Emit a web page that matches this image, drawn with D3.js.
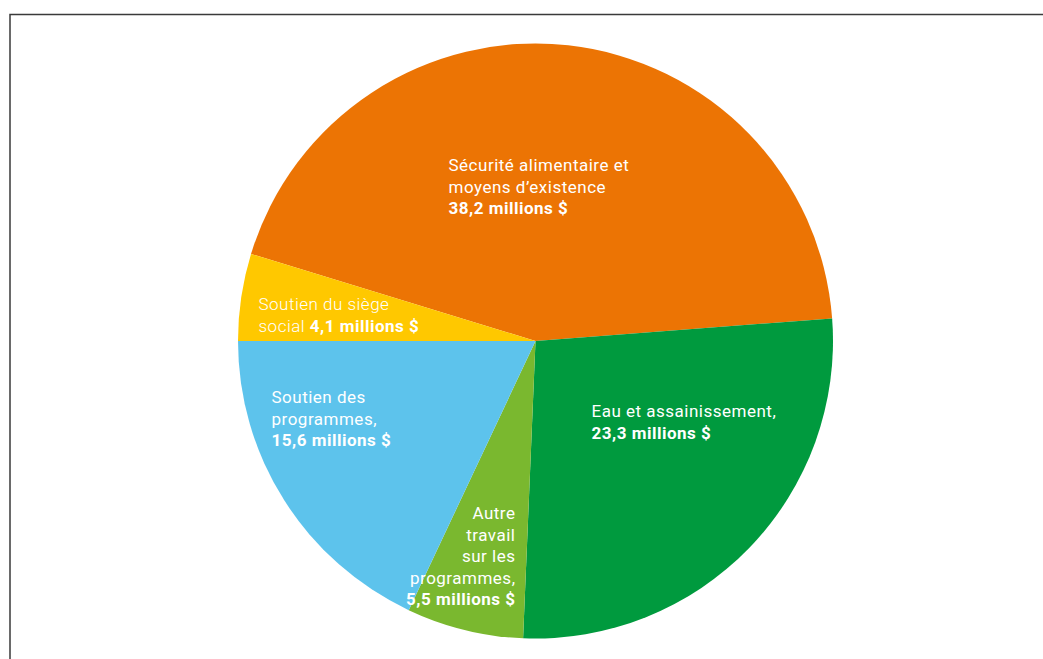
<!DOCTYPE html>
<html>
<head>
<meta charset="utf-8">
<script src="https://cdn.jsdelivr.net/npm/d3@7"></script>
<style>
  body { margin: 0; background: #fff; }
  svg { display: block; }
  text { font-family: Roboto, "Noto Sans", sans-serif; font-size: 17px; letter-spacing: 0.5px; fill: #fff; }
</style>
</head>
<body>
<div id="chart"></div>
<script>
// data, in millions $
const categories = ["food", "water", "other", "support", "hq"];
const values = [38.2, 23.3, 5.5, 15.6, 4.1];
const colors = ["#ec7404", "#009a3e", "#7ab82f", "#5dc3ec", "#ffc800"];

// label lines: [text, bold]
const labelLines = [
  [["Sécurité alimentaire et", false], ["moyens d\u2019existence", false], ["38,2 millions $", true]],
  [["Eau et assainissement,", false], ["23,3 millions $", true]],
  [["Autre", false], ["travail", false], ["sur les", false], ["programmes,", false], ["5,5 millions $", true]],
  [["Soutien des", false], ["programmes,", false], ["15,6 millions $", true]],
  [["Soutien du siège", false], ["social |4,1 millions $", false]]
];

const width = 1043;
const height = 659;
const CX = 535.5;
const CY = 341;
const RADIUS = 297.5;
const LINE_H = 21.6;

// label placement relative to the pie centre (first baseline)
const labelPos = [
  {dx: -87, dy: -170, anchor: "start"},
  {dx: 56, dy: 76, anchor: "start"},
  {dx: -20, dy: 178, anchor: "end"},
  {dx: -264, dy: 62, anchor: "start"},
  {dx: -277, dy: -31, anchor: "start"}
];

const svg = d3.select("#chart")
  .append("svg")
  .attr("width", width)
  .attr("height", height);

// frame
svg.append("path")
  .attr("d", `M10,${height} L10,14.5 L${width},14.5`)
  .attr("fill", "none")
  .attr("stroke", "#3a3a3a")
  .attr("stroke-width", 1.5);

// hq slice ends on the left horizontal, the rest follows clockwise
const total = d3.sum(values);
const start = -Math.PI / 2 + values[4] / total * 2 * Math.PI;

const pie = d3.pie()
  .sort(null)
  .value(d => d)
  .startAngle(start)
  .endAngle(start + 2 * Math.PI);

const arc = d3.arc().innerRadius(0).outerRadius(RADIUS);

const g = svg.append("g").attr("transform", `translate(${CX},${CY})`);

g.selectAll("path.slice")
  .data(pie(values))
  .enter()
  .append("path")
  .attr("class", "slice")
  .attr("d", arc)
  .attr("fill", (d, i) => colors[i]);

// labels
labelLines.forEach((lines, i) => {
  const p = labelPos[i];
  const t = g.append("text")
    .attr("text-anchor", p.anchor)
    .attr("x", p.dx)
    .attr("y", p.dy);
  lines.forEach((ln, j) => {
    const parts = ln[0].split("|");
    if (parts.length > 1) {
      t.append("tspan").attr("x", p.dx).attr("dy", j === 0 ? 0 : LINE_H)
        .style("font-weight", 300).text(parts[0]);
      t.append("tspan").style("font-weight", 700).text(parts[1]);
    } else {
      t.append("tspan")
        .attr("x", p.dx)
        .attr("dy", j === 0 ? 0 : LINE_H)
        .style("font-weight", ln[1] ? 700 : (i === 4 ? 300 : 400))
        .text(ln[0]);
    }
  });
});
</script>
</body>
</html>
